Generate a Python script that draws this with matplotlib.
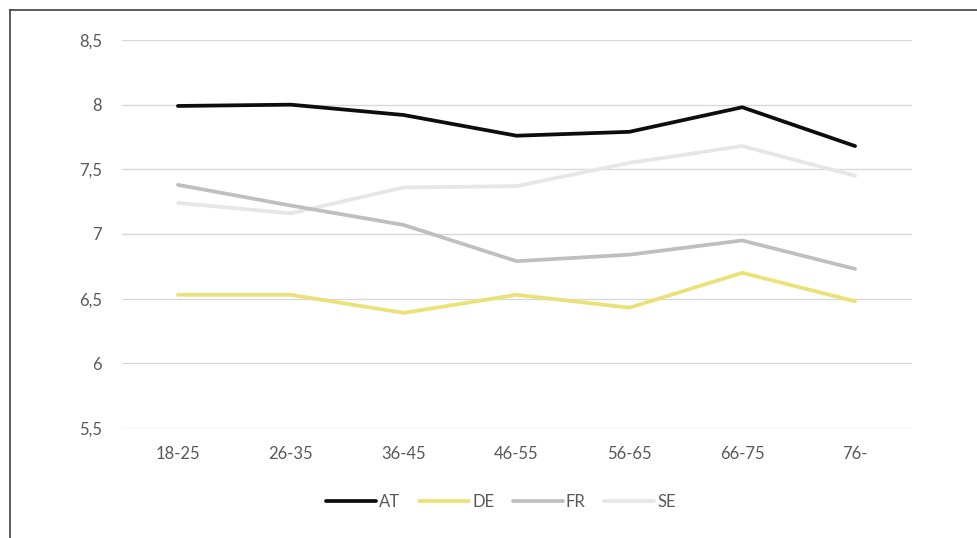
import matplotlib.pyplot as plt
from matplotlib.lines import Line2D

plt.rcParams['font.family'] = ['Lato', 'DejaVu Sans']

age_groups = ['18-25', '26-35', '36-45', '46-55', '56-65', '66-75', '76-']
at = [7.99, 8.00, 7.92, 7.76, 7.79, 7.98, 7.68]
de = [6.53, 6.53, 6.39, 6.53, 6.43, 6.70, 6.48]
fr = [7.38, 7.22, 7.07, 6.79, 6.84, 6.95, 6.73]
se = [7.24, 7.16, 7.36, 7.37, 7.55, 7.68, 7.45]

yticks = [5.5, 6, 6.5, 7, 7.5, 8, 8.5]
ytick_labels = ['5,5', '6', '6,5', '7', '7,5', '8', '8,5']

W, H = 977, 538
fig = plt.figure(figsize=(W / 100, H / 100), dpi=100)
ax = fig.add_axes([121.5 / W, 1 - 428 / H, 790 / W, 388 / H])

x = range(len(age_groups))
series = [('AT', at, '#0d0d0d'), ('DE', de, '#ebe277'),
          ('FR', fr, '#bfbfbf'), ('SE', se, '#e6e6e6')]
for name, vals, col in series[::-1]:
    ax.plot(x, vals, color=col, lw=2.7, label=name, solid_capstyle='round', zorder=3)

ax.set_xlim(-0.5, len(age_groups) - 0.5)
ax.set_ylim(5.5, 8.5)
ax.set_xticks(list(x))
ax.set_xticklabels(age_groups)
ax.set_yticks(yticks)
ax.set_yticklabels(ytick_labels)
ax.tick_params(length=0, colors='#595959', labelsize=12)
ax.tick_params(axis='y', pad=14)
ax.tick_params(axis='x', pad=13)
ax.grid(axis='y', color='#d9d9d9', lw=1)
ax.set_axisbelow(True)
for s in ax.spines.values():
    s.set_visible(False)

handles, labels = ax.get_legend_handles_labels()
leg = fig.legend(handles[::-1], labels[::-1], loc='center', ncol=4,
                 bbox_to_anchor=(501 / W, 1 - 502 / H), frameon=False,
                 fontsize=12, handlelength=3.0, handletextpad=0.2,
                 columnspacing=1.1, labelcolor='#595959')

# frame of the original chart box (left and top edges)
fig.add_artist(Line2D([9.5 / W, 9.5 / W], [0, 1 - 9.5 / H], transform=fig.transFigure,
                      color='#404040', lw=1.2))
fig.add_artist(Line2D([9.5 / W, 1], [1 - 9.5 / H, 1 - 9.5 / H], transform=fig.transFigure,
                      color='#404040', lw=1.2))

fig.savefig('out.png', dpi=100)
